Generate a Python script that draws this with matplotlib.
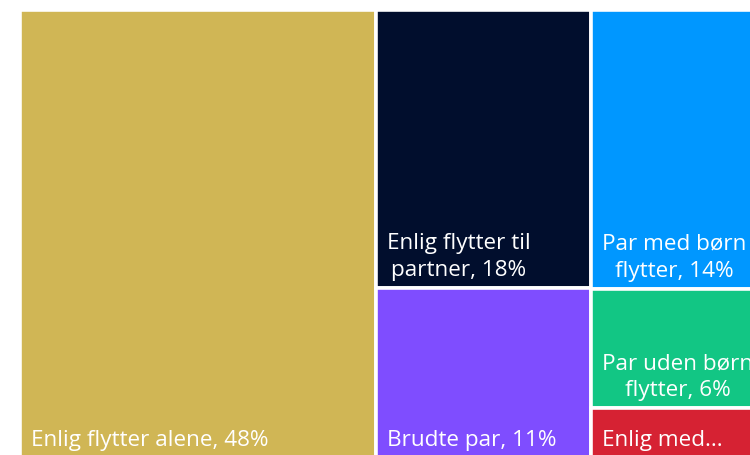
import matplotlib
matplotlib.use("Agg")
import matplotlib.pyplot as plt
from matplotlib.patches import Rectangle

plt.rcParams['font.family'] = ['Open Sans', 'DejaVu Sans']

# treemap columns, left to right; inside a column, top to bottom
col_names = [
    ["Enlig flytter alene"],
    ["Enlig flytter til\npartner", "Brudte par"],
    ["Par med børn\nflytter", "Par uden børn\nflytter", "Enlig med"],
]
col_values = [
    [48],
    [18, 11],
    [14, 6, 2.5],
]
col_colors = [
    ["#D0B655"],
    ["#010E2D", "#7F4DFF"],
    ["#0097FF", "#12C684", "#D62233"],
]
# the smallest tile only has room for a cut-off name
truncated = {"Enlig med": "Enlig med..."}

W, H = 750, 455
fig = plt.figure(figsize=(W / 100, H / 100), dpi=100)
# plot area is wider and taller than the canvas, so the right and bottom get cut off
ax = fig.add_axes([20 / W, -3 / H, 738 / W, 448 / H])
ax.set_xlim(0, 1)
ax.set_ylim(0, 1)
ax.axis('off')

total = sum(sum(c) for c in col_values)
x = 0.0
for names, vals, colors in zip(col_names, col_values, col_colors):
    cw = sum(vals) / total
    y = 1.0
    for name, v, c in zip(names, vals, colors):
        h = v / sum(vals)
        y -= h
        ax.add_patch(Rectangle((x, y), cw, h, facecolor=c, edgecolor='white',
                               linewidth=2.6))
        label = truncated.get(name, f"{name}, {v}%")
        ax.annotate(label, (x, y), xytext=(11, 7), textcoords='offset pixels',
                    ha='left', va='bottom', multialignment='center',
                    color='white', fontsize=16.2, linespacing=1.38)
    x += cw

fig.savefig("out.png", dpi=100)
